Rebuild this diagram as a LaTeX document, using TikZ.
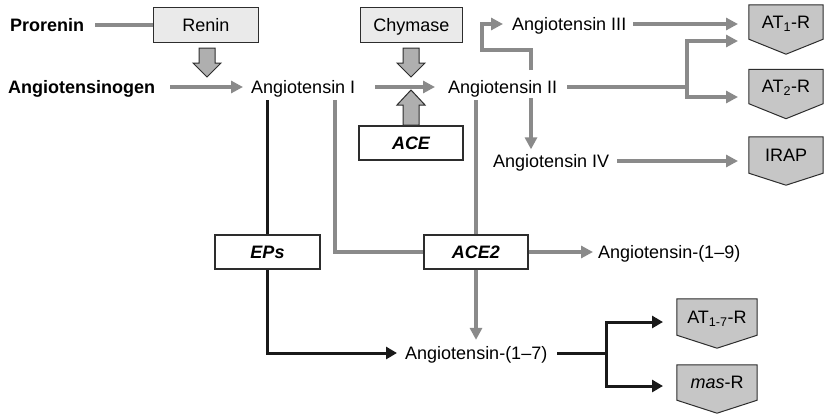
\documentclass[tikz,border=0pt]{standalone}
\usepackage{fontspec}
\setmainfont{Liberation Sans}
\usetikzlibrary{arrows.meta,calc,backgrounds}
\definecolor{lgray}{RGB}{138,138,138}
\definecolor{dblack}{RGB}{25,25,25}
\definecolor{bordc}{RGB}{45,45,45}
\definecolor{boxfill}{RGB}{234,234,234}
\definecolor{blkfill}{RGB}{175,175,175}
\definecolor{recfill}{RGB}{198,198,198}
\begin{document}
\begin{tikzpicture}[x=1pt,y=-1pt,
  every node/.style={font=\fontsize{18}{20}\selectfont},
  txt/.style={anchor=west,inner sep=0pt,text height=12.9pt,text depth=0pt},
  boldtxt/.style={txt,font=\fontsize{18}{20}\selectfont\bfseries},
  enzbox/.style={draw=bordc,line width=1.1pt,minimum width=105pt,minimum height=35pt,inner sep=0pt,fill=boxfill,text height=12.9pt,text depth=0pt},
  inhbox/.style={draw=bordc,line width=1.1pt,minimum width=104pt,minimum height=34pt,inner sep=0pt,fill=white,text height=12.9pt,text depth=0pt,font=\fontsize{18}{20}\selectfont\bfseries\itshape},
  recep/.style={minimum width=74pt,minimum height=34pt,inner sep=0pt,text height=12.9pt,text depth=0pt},
  rshape/.style={draw=bordc,line width=1pt,fill=recfill},
  gline/.style={draw=lgray,line width=3.3pt},
  garrow/.style={gline,-{Triangle[length=12pt,width=12pt]}},
  bline/.style={draw=dblack,line width=3pt},
  barrow/.style={bline,-{Triangle[length=11pt,width=12pt]}},
  blk/.style={draw=bordc,line width=1pt,fill=blkfill,line join=miter}]
\useasboundingbox (0,0) rectangle (824,413);

% text nodes
\node[boldtxt] (pro) at (10,25) {Prorenin};
\node[boldtxt] (agen) at (8,87) {Angiotensinogen};
\node[txt] (ang1) at (251,87) {Angiotensin I};
\node[txt] (ang2) at (448,87) {Angiotensin II};
\node[txt] (ang3) at (512,24) {Angiotensin III};
\node[txt] (ang4) at (493,161) {Angiotensin IV};
\node[txt] (ang19) at (598,252) {Angiotensin-(1–9)};
\node[txt] (ang17) at (405,353) {Angiotensin-(1–7)};

% enzyme boxes
\node[enzbox] (renin) at (206,25) {Renin};
\node[enzbox,minimum width=102pt] (chy) at (411.5,25) {Chymase};
\node[inhbox] (ace) at (411,143) {ACE};
\node[inhbox,minimum width=105pt] (eps) at (267.5,252) {EPs};
\node[inhbox] (ace2) at (476,252) {ACE2};

% receptors
\node[recep] (at1) at (786,22) {AT\textsubscript{1}-R};
\node[recep] (at2) at (786,86.5) {AT\textsubscript{2}-R};
\node[recep,minimum height=36pt] (irap) at (786,155) {IRAP};
\node[recep,minimum width=80pt,minimum height=36pt] (at17) at (717,317) {AT\textsubscript{1-7}-R};
\node[recep,minimum width=80pt,minimum height=35pt] (mas) at (717,382.5) {\textit{mas}-R};
\begin{scope}[on background layer]
\foreach \n/\t in {at1/15,at2/15,irap/12,at17/13,mas/13}
  \draw[rshape] (\n.north west) -- (\n.north east) -- (\n.south east)
     -- ($(\n.south)+(0,\t)$) -- (\n.south west) -- cycle;
\end{scope}

% block arrows
\draw[blk] (199,48) -- (215,48) -- (215,63) -- (221,63) -- (207,77) -- (193,63) -- (199,63) -- cycle;
\draw[blk] (403,48) -- (419,48) -- (419,63) -- (425,63) -- (411,77) -- (397,63) -- (403,63) -- cycle;
\draw[blk] (403,125) -- (419,125) -- (419,105) -- (425,105) -- (411,90) -- (397,105) -- (403,105) -- cycle;

% coordinates
\coordinate (jA) at (687,87);
\coordinate (t1b) at (738,41);
\coordinate (t2) at (738,97);
\coordinate (c3) at (531,70);
\coordinate (c3m) at (482,50);
\coordinate (c4) at (531,98);
\coordinate (c1a) at (267.5,100);
\coordinate (c1b) at (335,100);
\coordinate (c2a) at (476,100);
\coordinate (jB) at (606,353);
\coordinate (t17) at (663,322);
\coordinate (tm) at (663,386);

% connectors
\draw[gline,shorten <=11pt] (pro.east) -- (renin.west);
\draw[garrow,shorten <=15pt,shorten >=8pt] (agen.east) -- (ang1.west);
\draw[garrow,shorten <=20pt,shorten >=13pt] (ang1.east) -- (ang2.west);
\draw[gline,shorten <=10pt] (ang2.east) -- (jA);
\draw[garrow] (jA) |- (t1b);
\draw[garrow] (jA) |- (t2);
\draw[garrow,shorten <=7pt] (ang3.east) -- (ang3.east -| t1b);
\draw[garrow,shorten >=9pt] (c3) |- (c3m) |- (ang3.west);
\draw[garrow,shorten >=5pt] (c4) -- (c4 |- ang4.north);
\draw[garrow,shorten <=8pt] (ang4.east) -- (ang4.east -| t1b);
\draw[bline] (c1a) -- (eps.north);
\draw[barrow,shorten >=8pt] (eps.south) |- (ang17.west);
\draw[gline] (c1b) |- (ace2.west);
\draw[gline] (c2a) -- (ace2.north);
\draw[garrow,shorten >=6.5pt] (ace2.south) -- (ace2.south |- ang17.north);
\draw[garrow,shorten >=5pt] (ace2.east) -- (ang19.west);
\draw[bline,shorten <=10pt] (ang17.east) -- (jB);
\draw[barrow] (jB) |- (t17);
\draw[barrow] (jB) |- (tm);
\end{tikzpicture}
\end{document}
